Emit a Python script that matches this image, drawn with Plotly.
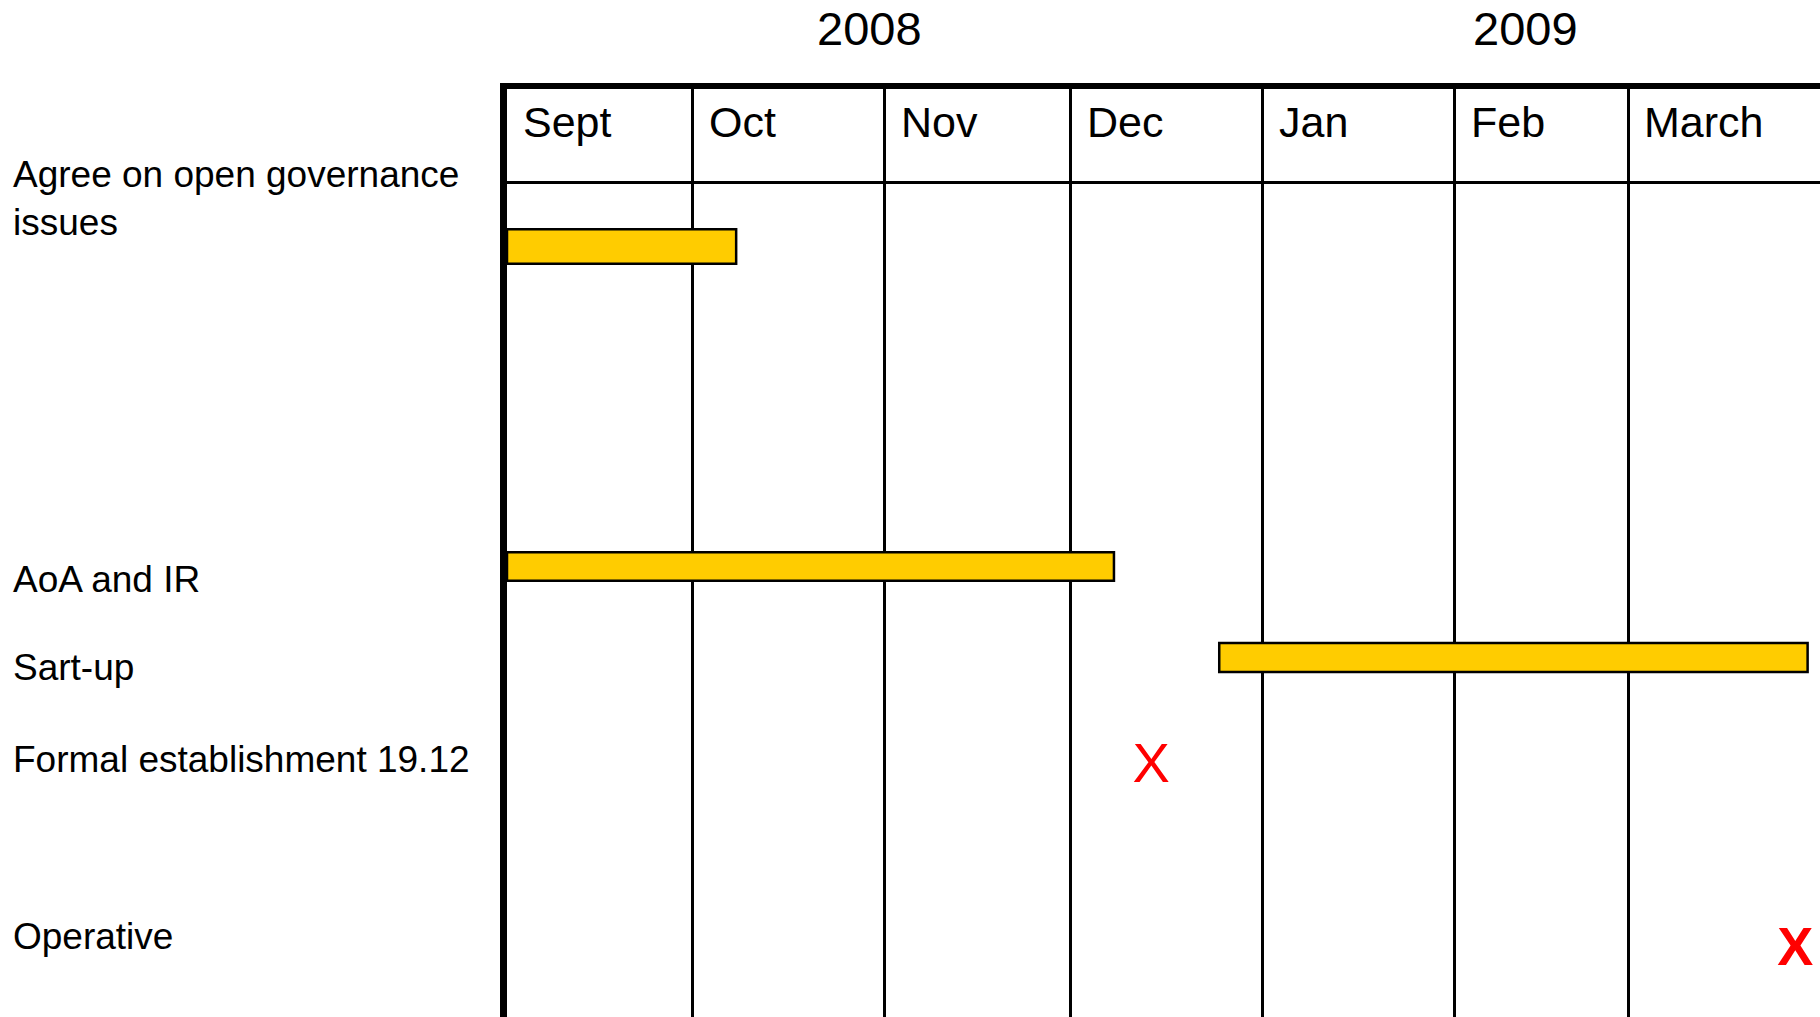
import pandas as pd
import plotly.graph_objects as go

# ---------------- data ----------------
tasks = ["Agree on open governance issues", "AoA and IR", "Sart-up"]
task_start = ["2008-09-01", "2008-09-01", "2008-12-25"]
task_end = ["2008-10-08", "2008-12-08", "2009-03-30"]

milestones = ["Formal establishment 19.12", "Operative"]
milestone_date = ["2008-12-14", "2009-03-28"]

months = ["Sept", "Oct", "Nov", "Dec", "Jan", "Feb", "March"]
month_start = ["2008-09-01", "2008-10-01", "2008-11-01", "2008-12-01",
               "2009-01-01", "2009-02-01", "2009-03-01"]
years = ["2008", "2009"]

row_labels = ["Agree on open governance<br>issues", "AoA and IR", "Sart-up",
              "Formal establishment 19.12", "Operative"]

# ---------------- layout constants ----------------
FONT = "Liberation Sans, Arial, sans-serif"
task_row = [1.684, 5.107, 6.080]
task_thickness = [0.369, 0.305, 0.31]
milestone_row = [7.262, 9.22]
label_row = [1.17, 5.241, 6.182, 7.17, 9.059]
year_pos = [0.2762, 0.7755]

start = pd.to_datetime(pd.Series(task_start))
end = pd.to_datetime(pd.Series(task_end))
dur_ms = ((end - start).dt.total_seconds() * 1000).tolist()

fig = go.Figure()
fig.add_trace(go.Bar(
    orientation="h", y=task_row, base=task_start, x=dur_ms,
    width=task_thickness, name="tasks",
    marker=dict(color="#FFCC00", line=dict(color="black", width=2.5)),
    hoverinfo="skip", showlegend=False,
))
fig.add_trace(go.Scatter(
    x=milestone_date, y=milestone_row, mode="text",
    text=["X", "<b>X</b>"], textposition="middle center",
    textfont=dict(family=FONT, size=[56, 54], color="#FF0000"),
    hoverinfo="skip", showlegend=False,
))

annotations = []
for m, d in zip(months, month_start):
    annotations.append(dict(
        x=d, y=0.353, xref="x", yref="y", text=m, showarrow=False,
        xanchor="left", yanchor="middle", xshift=14,
        font=dict(family=FONT, size=43, color="black"),
    ))
for yr, xp in zip(years, year_pos):
    annotations.append(dict(
        x=xp, y=1.065, xref="paper", yref="paper", text=yr, showarrow=False,
        xanchor="center", yanchor="middle",
        font=dict(family=FONT, size=47, color="black"),
    ))
for lab, yv in zip(row_labels, label_row):
    annotations.append(dict(
        x=0, y=yv, xref="paper", yref="y", text=lab, showarrow=False,
        xanchor="left", yanchor="middle", xshift=-496, align="left",
        font=dict(family=FONT, size=37, color="black"),
    ))

fig.update_layout(
    width=1820, height=1017,
    margin=dict(l=507, r=0, t=89, b=0, pad=0),
    paper_bgcolor="white", plot_bgcolor="white",
    barmode="overlay", showlegend=False,
    annotations=annotations,
    xaxis=dict(
        type="date", range=["2008-09-01", "2009-04-01"], side="top",
        showline=True, linewidth=6, linecolor="black",
        showgrid=True, gridcolor="black", gridwidth=2.5,
        tick0="2008-09-01", dtick="M1",
        showticklabels=False, ticks="", zeroline=False, fixedrange=True,
    ),
    yaxis=dict(
        range=[9.925, 0], showline=True, linewidth=7, linecolor="black",
        showgrid=True, gridcolor="black", gridwidth=2.5,
        tickmode="array", tickvals=[1],
        showticklabels=False, ticks="", zeroline=False, fixedrange=True,
    ),
)

fig.write_html(
    "out.html",
    config={"displayModeBar": False},
    post_script="document.body.style.margin='0';document.body.style.overflow='hidden';",
)
